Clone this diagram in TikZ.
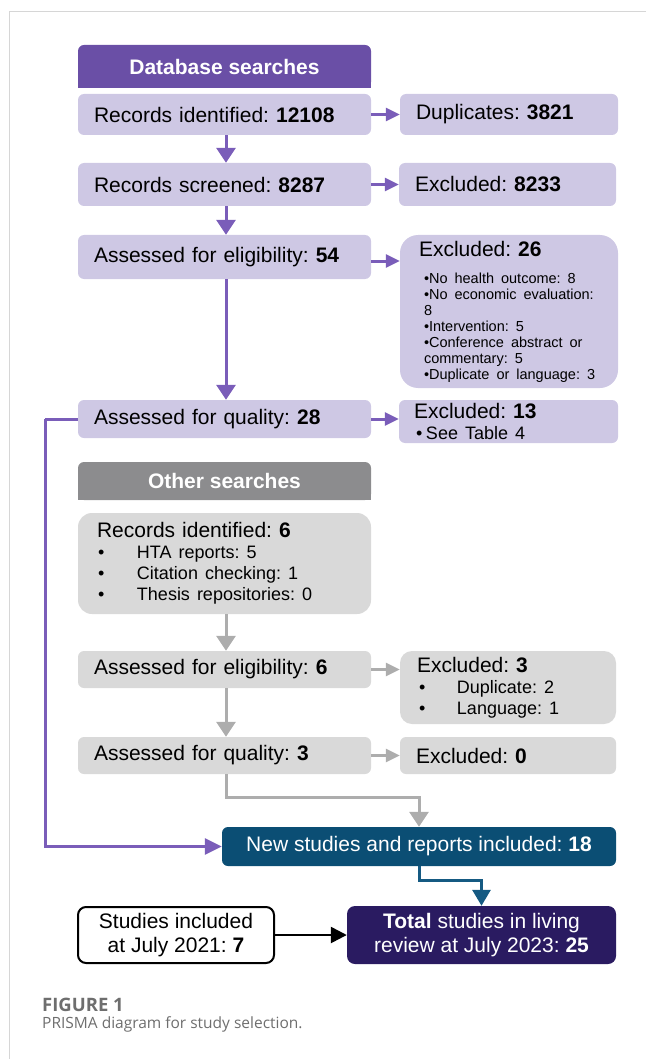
\documentclass[tikz,border=0pt]{standalone}
\usepackage{fontspec}
\setmainfont{Liberation Sans}
\newfontfamily\capfont{Open Sans}
\usetikzlibrary{arrows.meta,calc}
\definecolor{dbpurple}{HTML}{6A4FA6}
\definecolor{lpurple}{HTML}{CEC8E4}
\definecolor{apurple}{HTML}{7A5DB9}
\definecolor{ogray}{HTML}{8C8C8E}
\definecolor{lgray}{HTML}{D9D9D9}
\definecolor{agray}{HTML}{ADADAD}
\definecolor{nblue}{HTML}{0B4E74}
\definecolor{tindigo}{HTML}{2A1B61}
\definecolor{bconn}{HTML}{155A82}
\definecolor{framegray}{HTML}{D6D6D6}
\definecolor{capgray}{HTML}{6E6E6E}
\newcommand\szA{\fontsize{21}{24}\selectfont}
\newcommand\szB{\fontsize{18}{21}\selectfont}
\newcommand\szC{\fontsize{14.5}{16}\selectfont}
\begin{document}
\frenchspacing
\begin{tikzpicture}[x=1pt,y=-1pt,
  box/.style={inner xsep=0pt, inner ysep=0pt, rounded corners=6pt, align=left, font=\szA},
  pbox/.style={box, fill=lpurple},
  gbox/.style={box, fill=lgray},
  hdr/.style={inner sep=0pt, rounded corners=6pt, align=center, font=\szA\bfseries, text=white},
  htip/.style={-{Triangle[length=14pt,width=13pt]}},
  vtip/.style={-{Triangle[length=15pt,width=19pt]}},
  parrow/.style={draw=apurple, line width=3pt},
  garrow/.style={draw=agray, line width=3pt},
  barrow/.style={draw=bconn, line width=3pt, -{Triangle[length=16pt,width=18pt]}},
  karrow/.style={draw=black, line width=2.5pt, -{Triangle[length=16pt,width=16pt]}}
]
\useasboundingbox (0,0) rectangle (646,1059);
% frame
\draw[framegray, line width=1pt] (646,12) -- (9,12) -- (9,1059);

% Database searches header
\fill[dbpurple] (78,70) rectangle (371,88);
\node[hdr, fill=dbpurple, minimum width=293pt, minimum height=43pt] (hdb) at (224.5,66.5) {Database searches};

\node[pbox, minimum width=293pt, minimum height=41pt, text width=261pt] (ri) at (224.5,114.5) {Records identified: \textbf{12108}};
\node[pbox, minimum width=218pt, minimum height=41pt, text width=186pt] (dup) at (509,114.5) {Duplicates: \textbf{3821}};
\node[pbox, minimum width=293pt, minimum height=43pt, text width=261pt] (rs) at (224.5,184.5) {Records screened: \textbf{8287}};
\node[pbox, minimum width=217pt, minimum height=43pt, text width=185pt] (ex1) at (507.5,184.5) {Excluded: \textbf{8233}};
\node[pbox, minimum width=293pt, minimum height=44pt, text width=261pt] (ae) at (224.5,257) {Assessed for eligibility: \textbf{54}};
\node[pbox, rounded corners=18pt, minimum width=218pt, minimum height=153pt, text width=180pt] (ex2) at (509,311.5)
 {Excluded: \textbf{26}\par\vspace{11pt}
  {\szC\leftskip=5pt
  •No health outcome: 8\par
  •No economic evaluation:\par
  8\par
  •Intervention: 5\par
  •Conference abstract or\par
  commentary: 5\par
  •Duplicate or language: 3\par}};
\node[pbox, minimum width=293pt, minimum height=38pt, text width=261pt] (aq) at (224.5,419) {Assessed for quality: \textbf{28}};
\node[pbox, minimum width=219pt, minimum height=43pt, text width=189pt] (ex3) at (508.5,421.5)
 {Excluded: \textbf{13}\par
  {\szB\hspace*{2pt}\makebox[10pt][l]{•}See Table 4\par}};

% Other searches
\fill[ogray] (78,485) rectangle (371,500);
\node[hdr, fill=ogray, minimum width=293pt, minimum height=38pt] (hdo) at (224.5,481) {Other searches};
\node[gbox, rounded corners=14pt, minimum width=293pt, minimum height=101pt, text width=255pt] (ri6) at (224.5,563.5)
 {Records identified: \textbf{6}\par
  {\szB\hspace*{1pt}\makebox[39pt][l]{•}HTA reports: 5\par
  \hspace*{1pt}\makebox[39pt][l]{•}Citation checking: 1\par
  \hspace*{1pt}\makebox[39pt][l]{•}Thesis repositories: 0\par}};
\node[gbox, minimum width=293pt, minimum height=37pt, text width=261pt] (ae6) at (224.5,669.5) {Assessed for eligibility: \textbf{6}};
\node[gbox, rounded corners=12pt, minimum width=216pt, minimum height=73pt, text width=182pt] (ex6) at (508,687.5)
 {Excluded: \textbf{3}\par
  {\szB\hspace*{2pt}\makebox[38pt][l]{•}Duplicate: 2\par
  \hspace*{2pt}\makebox[38pt][l]{•}Language: 1\par}};
\node[gbox, minimum width=293pt, minimum height=37pt, text width=261pt] (aq3) at (224.5,755.5) {Assessed for quality: \textbf{3}};
\node[gbox, minimum width=216pt, minimum height=37pt, text width=184pt] (ex0) at (508,755.5) {Excluded: \textbf{0}};

% results
\node[box, fill=nblue, text=white, align=center, minimum width=394pt, minimum height=39pt] (new) at (419,846.5) {New studies and reports included: \textbf{18}};
\node[box, draw=black, line width=2pt, rounded corners=8pt, fill=white, align=center, minimum width=196pt, minimum height=56pt] (prev) at (176,935) {Studies included\\at July 2021: \textbf{7}};
\node[box, fill=tindigo, text=white, align=center, rounded corners=8pt, minimum width=269pt, minimum height=58pt] (tot) at (481.5,935) {\textbf{Total} studies in living\\review at July 2023: \textbf{25}};

% connectors
\draw[parrow, htip] (ri.east) -- (dup.west);
\draw[parrow, vtip] (ri.south -| 226,0) -- (rs.north -| 226,0);
\draw[parrow, htip] (rs.east) -- (ex1.west);
\draw[parrow, vtip] (rs.south -| 226,0) -- (ae.north -| 226,0);
\draw[parrow, htip] ([yshift=-4pt]ae.east) -- ([yshift=-4pt]ae.east -| ex2.west);
\draw[parrow, vtip] (ae.south -| 226,0) -- (aq.north -| 226,0);
\draw[parrow, htip] (aq.east) -- (aq.east -| ex3.west);
\coordinate (pl) at (45,419);
\draw[parrow] (aq.west) -- (pl);
\draw[parrow, -{Triangle[length=17pt,width=16pt]}] (pl) |- (new.west);

\draw[garrow, vtip] (ri6.south -| 226,0) -- (ae6.north -| 226,0);
\draw[garrow, htip] (ae6.east) -- (ae6.east -| ex6.west);
\draw[garrow, vtip] (ae6.south -| 226,0) -- (aq3.north -| 226,0);
\draw[garrow, htip] (aq3.east) -- (ex0.west);
\coordinate (g1) at (226,797);
\draw[garrow, vtip] (aq3.south -| 226,0) -- (g1) -| (new.north);

\coordinate (b1) at (419,880);
\draw[barrow] (new.south) -- (b1) -| (tot.north);
\draw[karrow] (prev.east) -- (tot.west);

% caption
\node[anchor=base west, inner sep=0pt, text=capgray, font=\capfont\bfseries\fontsize{18.5}{22}\selectfont] (fig) at (42,1011.5) {FIGURE 1};
\node[anchor=base west, inner sep=0pt, text=capgray, font=\capfont\fontsize{15.5}{18}\selectfont] (cap) at (42,1028) {PRISMA diagram for study selection.};
\end{tikzpicture}
\end{document}
